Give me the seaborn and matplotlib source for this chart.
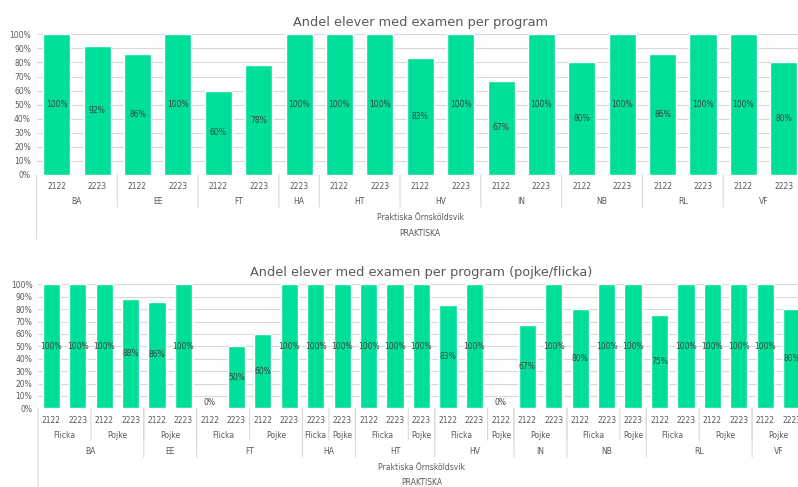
import numpy as np
import pandas as pd
import seaborn as sns
import matplotlib
matplotlib.use("Agg")
import matplotlib.pyplot as plt
from matplotlib.ticker import PercentFormatter

# top chart: share of students with exam per program and school year
top_program = ['BA', 'BA', 'EE', 'EE', 'FT', 'FT', 'HA', 'HT', 'HT', 'HV', 'HV',
               'IN', 'IN', 'NB', 'NB', 'RL', 'RL', 'VF', 'VF']
top_year = ['2122', '2223', '2122', '2223', '2122', '2223', '2223', '2122', '2223',
            '2122', '2223', '2122', '2223', '2122', '2223', '2122', '2223', '2122', '2223']
top_share = [100, 92, 86, 100, 60, 78, 100, 100, 100, 83, 100,
             67, 100, 80, 100, 86, 100, 100, 80]

# bottom chart: same split by gender
bot_program = ['BA'] * 4 + ['EE'] * 2 + ['FT'] * 4 + ['HA'] * 2 + ['HT'] * 3 + ['HV'] * 3 + \
              ['IN'] * 2 + ['NB'] * 3 + ['RL'] * 4 + ['VF'] * 2
bot_gender = ['Flicka', 'Flicka', 'Pojke', 'Pojke',
              'Pojke', 'Pojke',
              'Flicka', 'Flicka', 'Pojke', 'Pojke',
              'Flicka', 'Pojke',
              'Flicka', 'Flicka', 'Pojke',
              'Flicka', 'Flicka', 'Pojke',
              'Pojke', 'Pojke',
              'Flicka', 'Flicka', 'Pojke',
              'Flicka', 'Flicka', 'Pojke', 'Pojke',
              'Pojke', 'Pojke']
bot_year = ['2122', '2223', '2122', '2223',
            '2122', '2223',
            '2122', '2223', '2122', '2223',
            '2223', '2223',
            '2122', '2223', '2223',
            '2122', '2223', '2122',
            '2122', '2223',
            '2122', '2223', '2223',
            '2122', '2223', '2122', '2223',
            '2122', '2223']
bot_share = [100, 100, 100, 88,
             86, 100,
             0, 50, 60, 100,
             100, 100,
             100, 100, 100,
             83, 100, 0,
             67, 100,
             80, 100, 100,
             75, 100, 100, 100,
             100, 80]

school = 'Praktiska Örnsköldsvik'
org = 'PRAKTISKA'

BAR = '#00DF9A'
TXT = '#595959'
GRID = '#D9D9D9'

sns.set_style('white')
plt.rcParams['font.family'] = ['DejaVu Sans']

W, H = 798, 487
fig = plt.figure(figsize=(W / 100, H / 100), dpi=100)


def px_axes(left, right, top, bottom):
    return fig.add_axes([left / W, 1 - bottom / H, (right - left) / W, (bottom - top) / H])


def groups(keys):
    # runs of equal consecutive keys -> (start, end, key)
    runs = []
    start = 0
    for i in range(1, len(keys) + 1):
        if i == len(keys) or keys[i] != keys[start]:
            runs.append((start, i - 1, keys[start]))
            start = i
    return runs


def draw(ax, levels, shares, width, title, rows, sep_depth, bottom_line):
    df = pd.DataFrame({'slot': [str(i) for i in range(len(shares))], 'share': shares})
    sns.barplot(data=df, x='slot', y='share', color=BAR, width=width,
                saturation=1, ax=ax, zorder=3)
    n = len(shares)
    ax.set_xlim(-0.5, n - 0.5)
    ax.set_ylim(0, 100)
    ax.set_yticks(np.arange(0, 101, 10))
    ax.yaxis.set_major_formatter(PercentFormatter(decimals=0))
    ax.tick_params(axis='y', labelsize=5.5, labelcolor=TXT, length=0, pad=4)
    ax.set_xticks([])
    ax.set_xlabel('')
    ax.set_ylabel('')
    ax.grid(axis='y', color=GRID, linewidth=0.8, zorder=0)
    for s in ax.spines.values():
        s.set_visible(False)
    ax.set_title(title, fontsize=9.3, color=TXT, pad=6)

    # value labels in the middle of each bar
    for i, v in enumerate(shares):
        ax.text(i, max(v / 2, 5), f'{v}%', ha='center', va='center',
                fontsize=5.5, color='#404040', zorder=4)

    trans = ax.get_xaxis_transform()
    # multi-level category labels
    for lvl, keys in enumerate(levels):
        off = rows[lvl]
        if lvl == 0:
            for i, k in enumerate(keys):
                ax.annotate(k, (i, 0), xycoords=trans, xytext=(0, -off * 0.72),
                            textcoords='offset points', ha='center', va='center',
                            fontsize=5.5, color=TXT, annotation_clip=False)
            continue
        # combine with higher levels so runs don't cross parent boundaries
        combo = list(zip(*levels[lvl:]))
        for a, b, k in groups(combo):
            ax.annotate(k[0], ((a + b) / 2, 0), xycoords=trans, xytext=(0, -off * 0.72),
                        textcoords='offset points', ha='center', va='center',
                        fontsize=5.5, color=TXT, annotation_clip=False)
            if a > 0:
                d = sep_depth[lvl]
                ax.annotate('', (a - 0.5, 0), xycoords=trans, xytext=(a - 0.5, -d * 0.72),
                            textcoords=('data', 'offset points'),
                            arrowprops=dict(arrowstyle='-', color=GRID, lw=0.8,
                                            shrinkA=0, shrinkB=0),
                            annotation_clip=False)
    for lvl in range(len(levels), len(levels) + 2):
        name = school if lvl == len(levels) else org
        ax.annotate(name, ((n - 1) / 2, 0), xycoords=trans, xytext=(0, -rows[lvl] * 0.72),
                    textcoords='offset points', ha='center', va='center',
                    fontsize=5.5, color=TXT, annotation_clip=False)
    ax.annotate('', (-0.5, 0), xycoords=trans, xytext=(-0.5, -bottom_line * 0.72),
                textcoords=('data', 'offset points'),
                arrowprops=dict(arrowstyle='-', color=GRID, lw=0.8, shrinkA=0, shrinkB=0),
                annotation_clip=False)


ax1 = px_axes(36.5, 804, 34.3, 175)
draw(ax1, [top_year, top_program], top_share, 0.67,
     'Andel elever med examen per program',
     rows=[11.5, 27, 43, 59], sep_depth={1: 32}, bottom_line=64)

ax2 = px_axes(38, 805, 284.3, 408.3)
draw(ax2, [bot_year, bot_gender, bot_program], bot_share, 0.65,
     'Andel elever med examen per program (pojke/flicka)',
     rows=[12, 27.5, 43, 59.5, 74.5], sep_depth={1: 32, 2: 49}, bottom_line=79)

fig.savefig('out.png', dpi=100)
